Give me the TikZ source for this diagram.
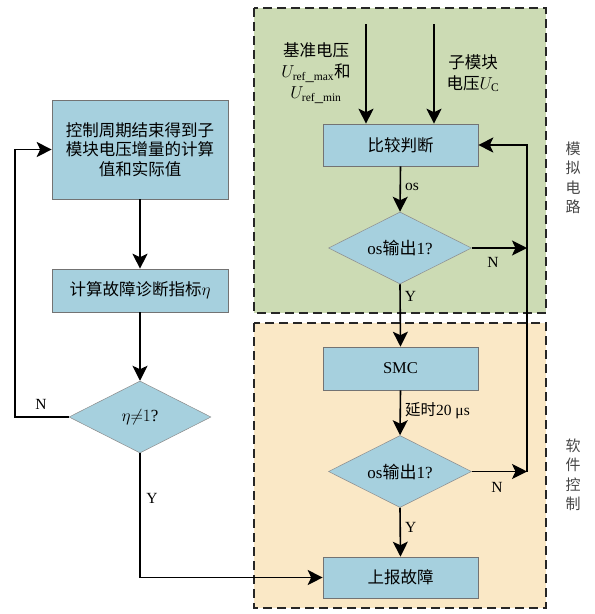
\documentclass[tikz,border=0pt]{standalone}
\usepackage{fontspec}
\setmainfont{Liberation Serif}
\newfontfamily\cjk{Noto Sans CJK SC}
\usetikzlibrary{shapes.geometric,arrows.meta}
\definecolor{boxblue}{RGB}{166,208,222}
\definecolor{greenbg}{RGB}{204,219,180}
\definecolor{orangebg}{RGB}{250,232,198}
\definecolor{labgray}{RGB}{70,70,70}
\tikzset{
  stepbox/.style={draw=black!55, line width=0.6pt, fill=boxblue, inner sep=0pt,
    minimum width=155pt, minimum height=42pt, align=center,
    font=\fontsize{16.5}{19.5}\selectfont},
  decide/.style={diamond, aspect=2, draw=black!45, line width=0.5pt, fill=boxblue, inner sep=0pt,
    minimum width=143pt, minimum height=72pt,
    font=\fontsize{17}{19.5}\selectfont},
  region/.style={dashed, dash pattern=on 9pt off 5pt, line width=1.5pt, draw=black!85},
  arr/.style={-{Stealth[length=15pt,width=15pt,inset=3.5pt]}, line width=1.6pt},
  lab/.style={font=\fontsize{15.5}{18}\selectfont, inner sep=1pt},
  side/.style={font=\cjk\fontsize{15}{19.5}\selectfont, text=labgray, align=center},
}
\begin{document}
\begin{tikzpicture}[x=1pt, y=-1pt]
\useasboundingbox (0,0) rectangle (595,614);
% regions
\draw[region, fill=greenbg] (254,8) rectangle (546,313);
\draw[region, fill=orangebg] (254,323) rectangle (546,608);
\node[side] (simlab) at (573,178) {模\\拟\\电\\路};
\node[side] (swlab) at (573,475) {软\\件\\控\\制};

% right column
\node[stepbox] (cmp) at (400.5,145) {\cjk 比较判断};
\node[decide] (d1) at (400,248) {os{\cjk 输出}1?};
\node[stepbox, minimum height=43pt] (smc) at (400.5,368.5) {SMC};
\node[decide] (d2) at (400,471.5) {os{\cjk 输出}1?};
\node[stepbox, minimum height=41pt] (rep) at (400.5,577.5) {\cjk 上报故障};

% left column
\node[stepbox, minimum width=176pt, minimum height=99pt] (b1) at (140,149.5)
  {\cjk 控制周期结束得到子\\\cjk 模块电压增量的计算\\\cjk 值和实际值};
\node[stepbox, minimum width=176pt, minimum height=43pt] (b2) at (140,290.5)
  {{\cjk 计算故障诊断指标}$\eta$};
\node[decide, minimum width=142pt] (d3) at (140,417) {$\eta{\neq}1$?};

% input labels
\node[align=center, font=\fontsize{16.5}{21}\selectfont, inner sep=0pt] (reflab) at (316,73)
  {{\cjk 基准电压}\\$U_{\mathrm{ref\_max}}${\cjk 和}\\$U_{\mathrm{ref\_min}}$};
\node[align=center, font=\fontsize{16.5}{21}\selectfont, inner sep=0pt] (uclab) at (473,73)
  {{\cjk 子模块}\\{\cjk 电压}$U_{\mathrm{C}}$};

% connectors
\coordinate (in1) at (366,24);
\coordinate (in2) at (434,24);
\draw[arr] (in1) -- (in1 |- cmp.north);
\draw[arr] (in2) -- (in2 |- cmp.north);
\draw[arr] (cmp.south) -- node[lab, right=3pt, pos=0.45] (oslab) {os} (d1.north);
\coordinate (r1) at (527,248);
\coordinate (r2) at (527,471.5);
\draw[arr] (d1.east) -- (r1);
\node[lab] (n1) at (493,262) {N};
\draw[arr] (d1.south) -- node[lab, right=3pt, pos=0.2] (y1) {Y} (smc.north);
\draw[arr] (smc.south) -- node[lab, right=3pt, pos=0.45] (dly) {{\cjk 延时}20 μs} (d2.north);
\draw[arr] (d2.east) -- (r2);
\node[lab] (n2) at (497,487) {N};
\draw[arr] (r2) -- (r2 |- cmp.east) -- (cmp.east);
\draw[arr] (d2.south) -- node[lab, right=3pt, pos=0.4] (y2) {Y} (rep.north);

\draw[arr] (b1.south) -- (b2.north);
\draw[arr] (b2.south) -- (d3.north);
\coordinate (l1) at (15,417);
\draw[arr] (d3.west) -- (l1) -- (l1 |- b1.west) -- (b1.west);
\node[lab] (n3) at (41,404) {N};
\coordinate (l2) at (140,577.5);
\draw[arr] (d3.south) -- (l2) -- (rep.west);
\node[lab] (y3) at (152,498) {Y};
\end{tikzpicture}
\end{document}
